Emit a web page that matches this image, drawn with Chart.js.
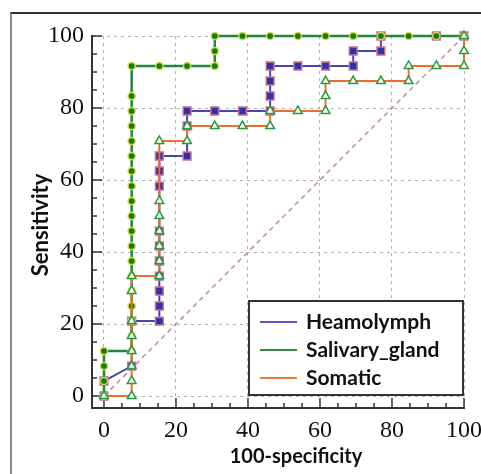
<!DOCTYPE html>
<html lang="en">
<head>
<meta charset="UTF-8">
<title>ROC curves</title>
<script src="https://cdn.jsdelivr.net/npm/chart.js"></script>
<style>
  body { margin: 0; background: #fff; overflow: hidden; }
  #frame { position: absolute; left: 10px; top: 12px; width: 600px; height: 600px;
           border-top: 2px solid #333; border-left: 2px solid #888; }
  canvas { position: absolute; left: 0; top: 0; }
</style>
</head>
<body>
<div id="frame"></div>
<canvas id="roc" width="481" height="474"></canvas>
<script>
const xTicks = [0, 20, 40, 60, 80, 100];
const yTicks = [0, 20, 40, 60, 80, 100];
const seriesNames = ['Heamolymph', 'Salivary_gland', 'Somatic'];
const xTitle = '100-specificity';
const yTitle = 'Sensitivity';

// 100-specificity / sensitivity pairs
const heamoX = [0, 0, 7.69, 7.69, 15.38, 15.38, 15.38, 15.38, 15.38, 15.38, 15.38, 15.38, 15.38, 15.38,
  23.08, 23.08, 23.08, 30.77, 38.46, 46.15, 46.15, 46.15, 46.15, 53.85, 61.54, 69.23, 69.23, 76.92, 76.92, 92.31, 100];
const heamoY = [0, 4.17, 8.33, 20.83, 20.83, 25, 29.17, 33.33, 37.5, 41.67, 45.83, 58.33, 62.5, 66.67,
  66.67, 75, 79.17, 79.17, 79.17, 79.17, 83.33, 87.5, 91.67, 91.67, 91.67, 91.67, 95.83, 95.83, 100, 100, 100];

const salivX = [0, 0, 0, 0,
  7.69, 7.69, 7.69, 7.69, 7.69, 7.69, 7.69, 7.69, 7.69, 7.69, 7.69, 7.69, 7.69, 7.69, 7.69, 7.69, 7.69, 7.69, 7.69,
  15.38, 23.08, 30.77, 30.77, 30.77, 38.46, 46.15, 53.85, 61.54, 69.23, 76.92, 84.62, 92.31, 100];
const salivY = [0, 4.17, 8.33, 12.5,
  12.5, 16.67, 20.83, 25, 29.17, 33.33, 37.5, 41.67, 45.83, 50, 54.17, 58.33, 62.5, 66.67, 70.83, 75, 79.17, 83.33, 91.67,
  91.67, 91.67, 91.67, 95.83, 100, 100, 100, 100, 100, 100, 100, 100, 100, 100];

const somX = [0, 7.69, 7.69, 7.69, 7.69, 7.69, 7.69, 7.69, 7.69, 15.38, 15.38, 15.38, 15.38, 15.38, 15.38, 15.38,
  23.08, 23.08, 30.77, 38.46, 46.15, 46.15, 53.85, 61.54, 61.54, 61.54, 69.23, 76.92, 84.62, 84.62, 92.31, 100, 100, 100];
const somY = [0, 0, 4.17, 8.33, 12.5, 16.67, 20.83, 29.17, 33.33, 33.33, 37.5, 41.67, 45.83, 50, 54.17, 70.83,
  70.83, 75, 75, 75, 75, 79.17, 79.17, 79.17, 83.33, 87.5, 87.5, 87.5, 87.5, 91.67, 91.67, 91.67, 95.83, 100];

const diagX = [0, 100];
const diagY = [0, 100];

const legendColors = ['#5b56c0', '#3a8a46', '#f07c3c'];

function pairs(xs, ys) {
  return xs.map((v, i) => ({ x: v, y: ys[i] }));
}

const innerTicks = {
  id: 'innerTicks',
  beforeDatasetsDraw(chart) {
    const { ctx, chartArea, scales: { x, y } } = chart;
    ctx.save();
    ctx.strokeStyle = '#333';
    ctx.lineWidth = 1.5;
    for (let v = 0; v <= 100; v += 5) {
      const len = v % 20 === 0 ? 10 : 5;
      const px = x.getPixelForValue(v);
      ctx.beginPath(); ctx.moveTo(px, chartArea.bottom); ctx.lineTo(px, chartArea.bottom - len); ctx.stroke();
      const py = y.getPixelForValue(v);
      ctx.beginPath(); ctx.moveTo(chartArea.left, py); ctx.lineTo(chartArea.left + len, py); ctx.stroke();
    }
    ctx.restore();
  }
};

const axisTitles = {
  id: 'axisTitles',
  afterDraw(chart) {
    const { ctx, chartArea } = chart;
    ctx.save();
    ctx.fillStyle = '#111';
    ctx.textAlign = 'center';
    ctx.textBaseline = 'middle';
    ctx.font = 'bold 20px Lato';
    ctx.fillText(xTitle, chartArea.left + 204, chartArea.bottom + 49);
    ctx.translate(41, chartArea.top + 189);
    ctx.rotate(-Math.PI / 2);
    ctx.font = 'bold 22px Lato';
    ctx.fillText(yTitle, 0, 0);
    ctx.restore();
  }
};

const boxLegend = {
  id: 'boxLegend',
  afterDraw(chart) {
    const { ctx, chartArea } = chart;
    const w = 214, h = 94;
    const left = chartArea.right - 1 - w, top = chartArea.bottom - 13 - h;
    ctx.save();
    ctx.fillStyle = '#fff';
    ctx.fillRect(left, top, w, h);
    ctx.strokeStyle = '#333';
    ctx.lineWidth = 2;
    ctx.strokeRect(left, top, w, h);
    ctx.font = 'bold 21px Lato';
    ctx.textBaseline = 'middle';
    ctx.fillStyle = '#111';
    seriesNames.forEach((name, i) => {
      const cy = top + 21 + i * 28;
      ctx.strokeStyle = legendColors[i];
      ctx.lineWidth = 2;
      ctx.beginPath(); ctx.moveTo(left + 11, cy); ctx.lineTo(left + 48, cy); ctx.stroke();
      ctx.fillText(name, left + 57, cy);
    });
    ctx.restore();
  }
};

const ctx = document.getElementById('roc').getContext('2d');
new Chart(ctx, {
  type: 'scatter',
  data: {
    datasets: [
      {
        label: seriesNames[0],
        data: pairs(heamoX, heamoY),
        showLine: true,
        borderColor: '#4a42b0',
        borderWidth: 2,
        pointStyle: 'rect',
        pointRadius: 5.5,
        pointBackgroundColor: '#3232a0',
        pointBorderColor: '#c4709a',
        pointBorderWidth: 1.5,
        clip: false,
        order: 3
      },
      {
        label: seriesNames[1],
        data: pairs(salivX, salivY),
        showLine: true,
        borderColor: '#23873a',
        borderWidth: 2.5,
        pointStyle: 'circle',
        pointRadius: 3.6,
        pointBackgroundColor: '#127a1e',
        pointBorderColor: '#d7d940',
        pointBorderWidth: 1.5,
        clip: false,
        order: 2
      },
      {
        label: seriesNames[2],
        data: pairs(somX, somY),
        showLine: true,
        borderColor: '#f26b2f',
        borderWidth: 2,
        pointStyle: 'triangle',
        pointRadius: 5,
        pointBackgroundColor: '#ffffff',
        pointBorderColor: '#2c9a3c',
        pointBorderWidth: 1.5,
        clip: false,
        order: 1
      },
      {
        label: 'reference',
        data: pairs(diagX, diagY),
        showLine: true,
        borderColor: '#c48a9a',
        borderWidth: 1.5,
        borderDash: [5, 4],
        pointRadius: 0,
        clip: false,
        order: 4
      }
    ]
  },
  options: {
    responsive: false,
    animation: false,
    devicePixelRatio: 1,
    layout: { padding: { top: 36, right: 17, left: 0, bottom: 0 } },
    plugins: { legend: { display: false }, tooltip: { enabled: false } },
    scales: {
      x: {
        type: 'linear',
        min: -3.33,
        max: 100,
        afterBuildTicks: s => { s.ticks = xTicks.map(v => ({ value: v })); },
        afterFit: s => { s.height = 66; s.paddingLeft = 0; s.paddingRight = 0; },
        grid: { color: '#b4b4b4', lineWidth: 1, drawTicks: false },
        border: { color: '#333', width: 2, dash: [3, 4] },
        ticks: { padding: 8, color: '#111', font: { family: 'Liberation Serif', size: 24 } }
      },
      y: {
        type: 'linear',
        min: -3.33,
        max: 100,
        afterBuildTicks: s => { s.ticks = yTicks.map(v => ({ value: v })); },
        afterFit: s => { s.width = 92; s.paddingTop = 0; s.paddingBottom = 0; },
        grid: { color: '#b4b4b4', lineWidth: 1, drawTicks: false },
        border: { color: '#333', width: 2, dash: [3, 4] },
        ticks: { padding: 8, color: '#111', font: { family: 'Liberation Serif', size: 24 } }
      }
    }
  },
  plugins: [innerTicks, axisTitles, boxLegend]
});
</script>
</body>
</html>
